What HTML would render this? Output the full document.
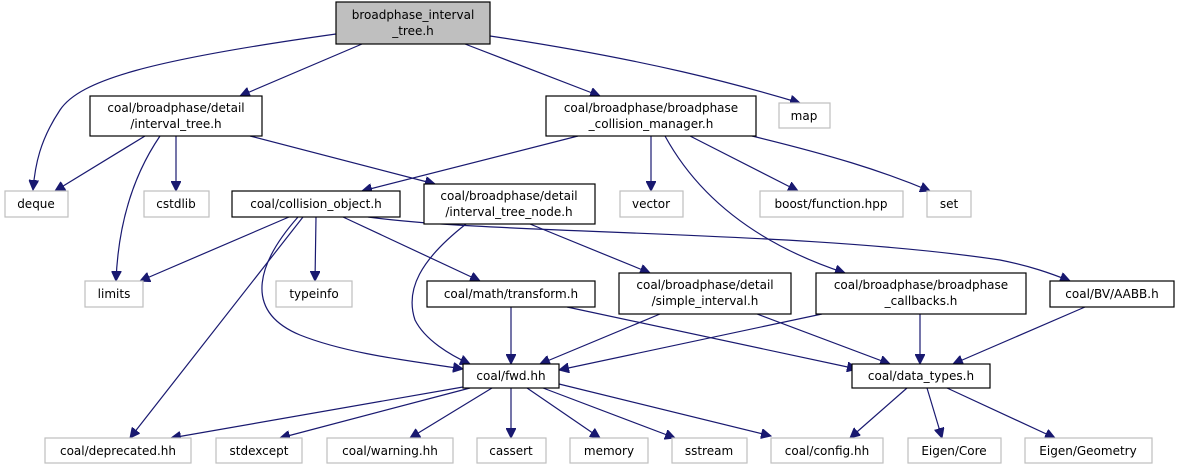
<!DOCTYPE html>
<html><head><meta charset="utf-8"><style>
html,body{margin:0;padding:0;background:#fff;}
svg{display:block;}
text{font-family:"DejaVu Sans","Liberation Sans",sans-serif;font-size:12px;fill:#000;text-anchor:middle;}
.b{fill:#fff;stroke:#000;stroke-width:1.2;}
.g{fill:#fff;stroke:#bfbfbf;stroke-width:1.2;}
.e{fill:none;stroke:#191970;stroke-width:1.2;marker-end:url(#a);}
</style></head><body>
<svg width="1177" height="469" viewBox="0 0 1177 469" xmlns="http://www.w3.org/2000/svg">
<defs><marker id="a" markerUnits="userSpaceOnUse" markerWidth="12" markerHeight="10" refX="10" refY="5" orient="auto"><path d="M0,0 L10,5 L0,10 z" fill="#191970" stroke="#191970"/></marker></defs>
<!-- edges -->
<path class="e" d="M336,34 C150,60 80,80 60,110 C40,140 35,165 33,190"/>
<path class="e" d="M362,44 L240,96"/>
<path class="e" d="M465,44 L600,96"/>
<path class="e" d="M490,36 C650,60 740,85 800,103"/>
<path class="e" d="M145,136 L55,191"/>
<path class="e" d="M160,136 C130,180 118,230 116,281"/>
<path class="e" d="M176,136 L176,191"/>
<path class="e" d="M250,136 L435,184"/>
<path class="e" d="M578,136 L362,191"/>
<path class="e" d="M651,136 L651,191"/>
<path class="e" d="M665,136 C700,200 760,245 845,273"/>
<path class="e" d="M690,136 L798,191"/>
<path class="e" d="M752,136 C830,155 880,170 930,191"/>
<path class="e" d="M289,217 L140,281"/>
<path class="e" d="M303,217 L130,438"/>
<path class="e" d="M298,217 C260,260 240,310 300,335 C350,355 420,362 463,369"/>
<path class="e" d="M316,217 L315,281"/>
<path class="e" d="M343,217 L480,281"/>
<path class="e" d="M368,217 C500,235 800,230 1000,260 C1030,266 1050,273 1070,281"/>
<path class="e" d="M466,224 C420,260 405,290 415,320 C425,340 450,355 470,364"/>
<path class="e" d="M530,224 L650,273"/>
<path class="e" d="M511,307 L511,364"/>
<path class="e" d="M567,307 L857,369"/>
<path class="e" d="M660,314 L540,364"/>
<path class="e" d="M757,314 L890,364"/>
<path class="e" d="M822,314 L559,370"/>
<path class="e" d="M920,314 L920,364"/>
<path class="e" d="M1085,307 L953,364"/>
<path class="e" d="M463,387 L171,438"/>
<path class="e" d="M470,388 L280,438"/>
<path class="e" d="M492,388 L410,438"/>
<path class="e" d="M511,388 L511,438"/>
<path class="e" d="M527,388 L600,438"/>
<path class="e" d="M543,388 L675,438"/>
<path class="e" d="M559,384 L771,436"/>
<path class="e" d="M907,388 L850,438"/>
<path class="e" d="M927,388 L942,438"/>
<path class="e" d="M947,388 L1055,438"/>
<!-- nodes -->
<rect x="336" y="2" width="154" height="42" fill="#bfbfbf" stroke="#000" stroke-width="1.2"/>
<text x="413" y="19">broadphase_interval</text><text x="413" y="35">_tree.h</text>
<rect class="b" x="90" y="96" width="172" height="40"/>
<text x="176" y="112">coal/broadphase/detail</text><text x="176" y="128">/interval_tree.h</text>
<rect class="b" x="546" y="96" width="210" height="40"/>
<text x="651" y="112">coal/broadphase/broadphase</text><text x="651" y="128">_collision_manager.h</text>
<rect class="g" x="779" y="103" width="51" height="25"/><text x="804" y="120">map</text>
<rect class="g" x="5" y="191" width="63" height="26"/><text x="36" y="208">deque</text>
<rect class="g" x="144" y="191" width="65" height="26"/><text x="176" y="208">cstdlib</text>
<rect class="b" x="232" y="191" width="168" height="26"/><text x="316" y="208">coal/collision_object.h</text>
<rect class="b" x="424" y="184" width="171" height="40"/>
<text x="509" y="200">coal/broadphase/detail</text><text x="509" y="216">/interval_tree_node.h</text>
<rect class="g" x="620" y="191" width="63" height="26"/><text x="651" y="208">vector</text>
<rect class="g" x="760" y="191" width="143" height="26"/><text x="831" y="208">boost/function.hpp</text>
<rect class="g" x="927" y="191" width="44" height="26"/><text x="949" y="208">set</text>
<rect class="g" x="85" y="281" width="58" height="26"/><text x="114" y="298">limits</text>
<rect class="g" x="276" y="281" width="76" height="26"/><text x="314" y="298">typeinfo</text>
<rect class="b" x="427" y="281" width="168" height="26"/><text x="511" y="298">coal/math/transform.h</text>
<rect class="b" x="619" y="273" width="172" height="41"/>
<text x="705" y="289">coal/broadphase/detail</text><text x="705" y="305">/simple_interval.h</text>
<rect class="b" x="816" y="273" width="210" height="41"/>
<text x="921" y="289">coal/broadphase/broadphase</text><text x="921" y="305">_callbacks.h</text>
<rect class="b" x="1050" y="281" width="124" height="26"/><text x="1112" y="298">coal/BV/AABB.h</text>
<rect class="b" x="463" y="364" width="96" height="24"/><text x="511" y="380">coal/fwd.hh</text>
<rect class="b" x="852" y="364" width="138" height="24"/><text x="921" y="380">coal/data_types.h</text>
<rect class="g" x="45" y="438" width="146" height="25"/><text x="118" y="455">coal/deprecated.hh</text>
<rect class="g" x="216" y="438" width="86" height="25"/><text x="259" y="455">stdexcept</text>
<rect class="g" x="327" y="438" width="126" height="25"/><text x="390" y="455">coal/warning.hh</text>
<rect class="g" x="477" y="438" width="69" height="25"/><text x="511" y="455">cassert</text>
<rect class="g" x="570" y="438" width="78" height="25"/><text x="609" y="455">memory</text>
<rect class="g" x="672" y="438" width="75" height="25"/><text x="709" y="455">sstream</text>
<rect class="g" x="771" y="438" width="112" height="25"/><text x="827" y="455">coal/config.hh</text>
<rect class="g" x="908" y="438" width="93" height="25"/><text x="954" y="455">Eigen/Core</text>
<rect class="g" x="1025" y="438" width="127" height="25"/><text x="1088" y="455">Eigen/Geometry</text>
</svg>
</body></html>
